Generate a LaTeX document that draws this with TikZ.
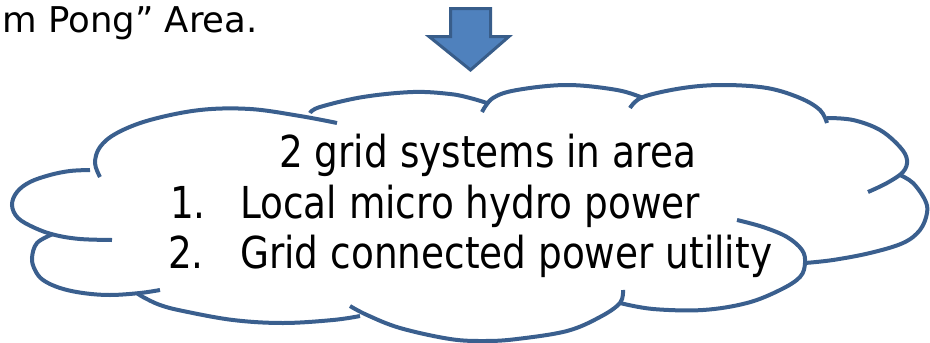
\documentclass[tikz,border=0pt]{standalone}
\usepackage{fontspec}
\setmainfont{DejaVu Sans}[FakeStretch=0.85]
\newfontfamily\toptextfont{DejaVu Sans}
\definecolor{cloudblue}{RGB}{58,95,142}
\definecolor{arrowfill}{RGB}{79,129,189}
\definecolor{arrowline}{RGB}{56,93,138}
\begin{document}
\begin{tikzpicture}[x=1pt,y=-1pt,
  lobe/.style={draw=cloudblue, line width=4pt},
  bigtxt/.style={inner sep=0pt, anchor=base west, font=\fontsize{44}{50}\selectfont},
  toptxt/.style={inner sep=0pt, anchor=base east, font=\toptextfont\fontsize{35.5}{40}\selectfont}]
\useasboundingbox (0,0) rectangle (930,343);
% top-left text
\node[toptxt] (head) at (258,32) {m Pong” Area.};
% block arrow
\draw[fill=arrowfill, draw=arrowline, line width=3pt, line join=miter]
  (450.5,8.5) -- (490.5,8.5) -- (490.5,36.5) -- (509,36.5) -- (470.5,70) -- (429,36.5) -- (450.5,36.5) -- cycle;
% cloud lobes
\draw[lobe] plot[smooth, tension=0.6] coordinates {(100,177) (95,163) (100,147) (117,133) (150,120) (200,110) (250,109) (300,116) (337,123)};
\draw[lobe] plot[smooth, tension=0.6] coordinates {(90,170) (70,171) (50,175) (30,182) (17,192) (12,205) (18,218) (35,228) (55,235) (80,239) (112,240)};
\draw[lobe] plot[smooth, tension=0.6] coordinates {(53,234) (37,243) (32,258) (35,270) (43,280) (60,288) (83,293) (110,295) (140,293) (160,290)};
\draw[lobe] plot[smooth, tension=0.6] coordinates {(137,293) (143,297) (160,305) (183,311) (233,320) (283,323) (333,320) (360,316)};
\draw[lobe] plot[smooth, tension=0.6] coordinates {(350,306) (367,315) (400,328) (450,339) (485,341) (517,339) (567,331) (600,317) (620,303) (623,290)};
\draw[lobe] plot[smooth, tension=0.6] coordinates {(620,303) (653,309) (703,310) (747,303) (780,290) (800,277) (805,263) (802,250) (787,237) (763,227) (737,220)};
\draw[lobe] plot[smooth, tension=0.6] coordinates {(900,175) (913,183) (925,200) (927,213) (920,230) (903,243) (870,253) (833,260) (805,263)};
\draw[lobe] plot[smooth, tension=0.6] coordinates {(827,118) (853,120) (880,130) (900,147) (907,160) (903,172) (887,183) (868,192)};
\draw[lobe] plot[smooth, tension=0.6] coordinates {(630,108) (643,97) (683,88) (723,85) (767,88) (800,98) (820,110) (827,123)};
\draw[lobe] plot[smooth, tension=0.6] coordinates {(482,112) (493,98) (517,90) (567,85) (617,90) (643,98)};
\draw[lobe] plot[smooth, tension=0.6] coordinates {(310,113) (320,107) (363,97) (413,92) (450,94) (470,98) (487,103)};
% cloud text
\node[bigtxt] (title) at (279,167) {2 grid systems in area};
\node[bigtxt] (n1) at (170,218) {1.};
\node[bigtxt] (t1) at (240,218) {Local micro hydro power};
\node[bigtxt] (n2) at (168,268) {2.};
\node[bigtxt] (t2) at (240,268) {Grid connected power utility};
\end{tikzpicture}
\end{document}
